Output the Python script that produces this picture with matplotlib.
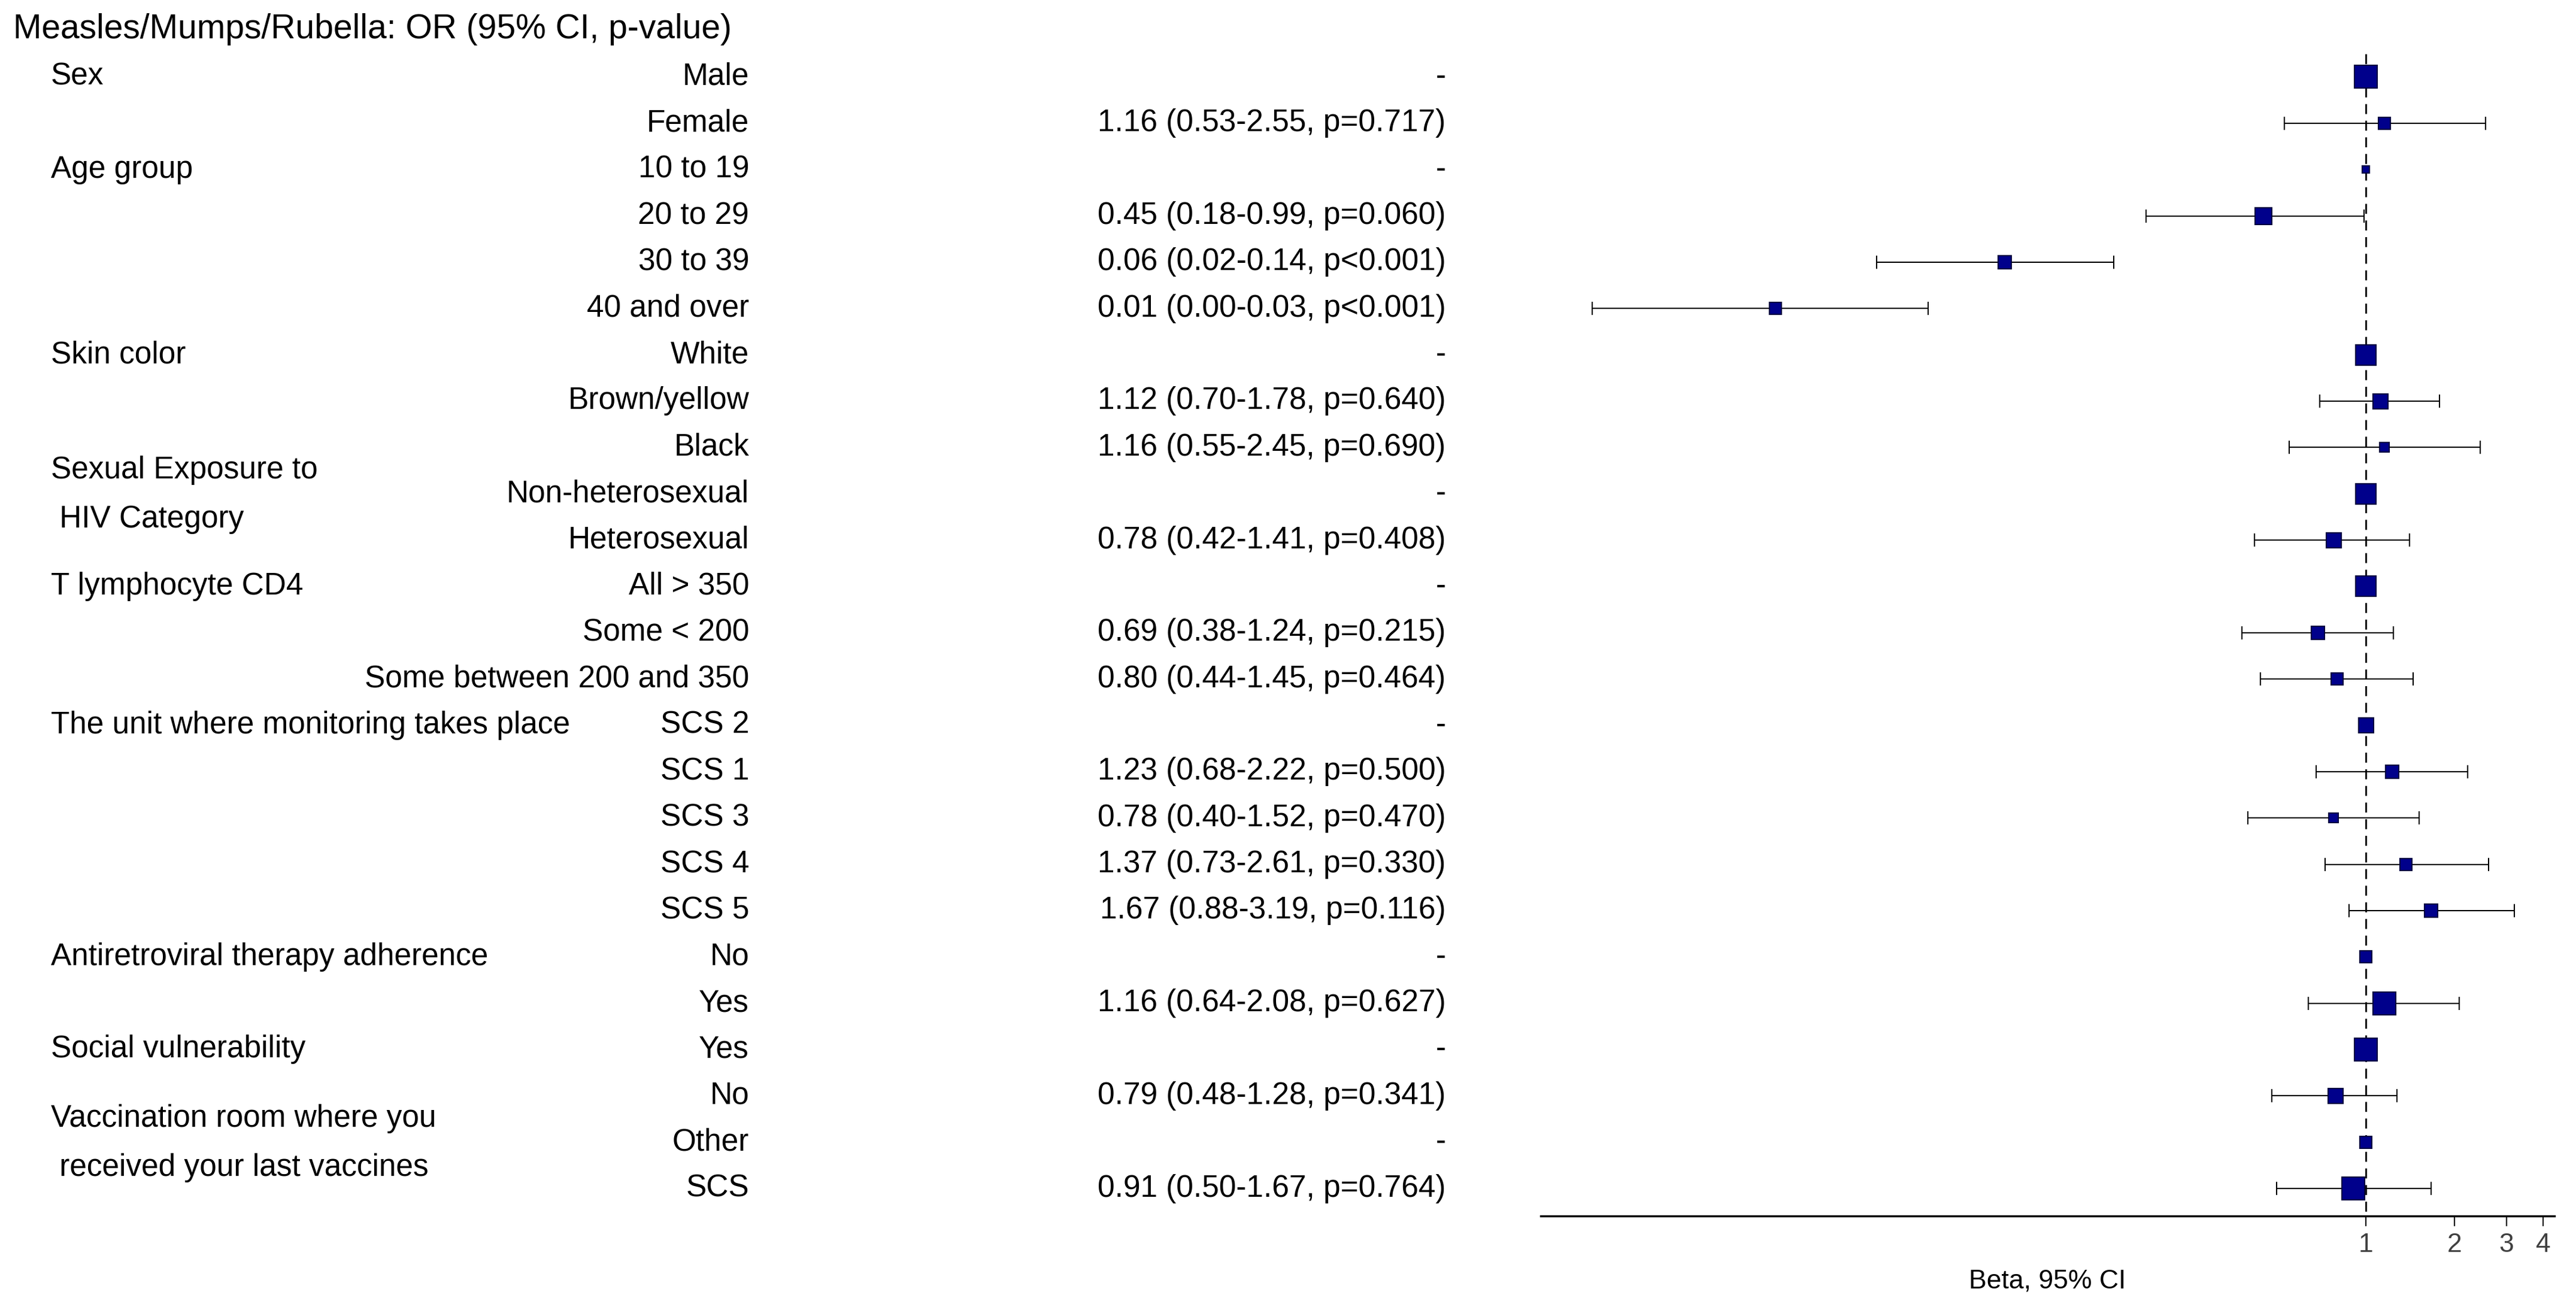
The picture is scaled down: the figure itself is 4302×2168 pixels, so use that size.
import matplotlib.pyplot as plt
import matplotlib.transforms as mtrans
from matplotlib.ticker import FixedLocator, NullLocator
import numpy as np

plt.rcParams['font.family'] = ['Liberation Sans', 'DejaVu Sans']

# groups: (label lines, first row index)
groups = [(["Sex"], 0), (["Age group"], 2), (["Skin color"], 6),
          (["Sexual Exposure to", " HIV Category"], 9), (["T lymphocyte CD4"], 11),
          (["The unit where monitoring takes place"], 14),
          (["Antiretroviral therapy adherence"], 19), (["Social vulnerability"], 21),
          (["Vaccination room where you", " received your last vaccines"], 23)]
levels = ["Male", "Female", "10 to 19", "20 to 29", "30 to 39", "40 and over",
          "White", "Brown/yellow", "Black", "Non-heterosexual", "Heterosexual",
          "All > 350", "Some < 200", "Some between 200 and 350",
          "SCS 2", "SCS 1", "SCS 3", "SCS 4", "SCS 5", "No", "Yes", "Yes", "No",
          "Other", "SCS"]
odds = [1, 1.16, 1, 0.45, 0.06, 0.01, 1, 1.12, 1.16, 1, 0.78, 1, 0.69, 0.80,
        1, 1.23, 0.78, 1.37, 1.67, 1, 1.16, 1, 0.79, 1, 0.91]
lower = [None, 0.53, None, 0.18, 0.022, 0.0024, None, 0.70, 0.55, None, 0.42, None, 0.38, 0.44,
         None, 0.68, 0.40, 0.73, 0.88, None, 0.64, None, 0.48, None, 0.50]
upper = [None, 2.55, None, 0.99, 0.14, 0.033, None, 1.78, 2.45, None, 1.41, None, 1.24, 1.45,
         None, 2.22, 1.52, 2.61, 3.19, None, 2.08, None, 1.28, None, 1.67]
or_text = ["-", "1.16 (0.53-2.55, p=0.717)", "-", "0.45 (0.18-0.99, p=0.060)",
           "0.06 (0.02-0.14, p<0.001)", "0.01 (0.00-0.03, p<0.001)", "-",
           "1.12 (0.70-1.78, p=0.640)", "1.16 (0.55-2.45, p=0.690)", "-",
           "0.78 (0.42-1.41, p=0.408)", "-", "0.69 (0.38-1.24, p=0.215)",
           "0.80 (0.44-1.45, p=0.464)", "-", "1.23 (0.68-2.22, p=0.500)",
           "0.78 (0.40-1.52, p=0.470)", "1.37 (0.73-2.61, p=0.330)",
           "1.67 (0.88-3.19, p=0.116)", "-", "1.16 (0.64-2.08, p=0.627)", "-",
           "0.79 (0.48-1.28, p=0.341)", "-", "0.91 (0.50-1.67, p=0.764)"]
box_size = [14, 7, 4, 10, 8, 7, 12, 9, 6, 12, 9, 12, 8, 7, 9, 8, 6, 7, 8, 7, 14, 14, 9, 7, 14]

fig = plt.figure(figsize=(43.02, 21.68), dpi=100)
ax = fig.add_axes([0.598, 0.063, 0.3937, 0.912])
rows = np.arange(len(levels))
ax.set_ylim(24.6, -0.96)
ax.set_xscale('log')
ax.set_xlim(0.0016, 4.37)

ax.plot([1, 1], [-0.5, 24.6], color='black', ls=(0, (6, 4)), lw=2)
for i in rows:
    if lower[i] is not None:
        ax.errorbar(odds[i], i, xerr=[[odds[i] - lower[i]], [upper[i] - odds[i]]],
                    fmt='none', ecolor='black', elinewidth=1.5, capsize=8, capthick=1.5)
    ax.plot(odds[i], i, marker='s', ms=box_size[i] * 2, mfc='#00008B', mec='#000040', mew=1.5)

for s in ['top', 'left', 'right']:
    ax.spines[s].set_visible(False)
ax.spines['bottom'].set_linewidth(2.5)
ax.yaxis.set_major_locator(NullLocator())
ax.xaxis.set_major_locator(FixedLocator([1, 2, 3, 4]))
ax.xaxis.set_minor_locator(NullLocator())
ax.set_xticklabels(["1", "2", "3", "4"], color='#404040')
ax.tick_params(axis='x', labelsize=32, length=12, width=1.5, pad=8)
ax.set_xlabel("Beta, 95% CI", fontsize=32, labelpad=14)

blend = mtrans.blended_transform_factory(fig.transFigure, ax.transData)
fs = 37
for lines, start in groups:
    if len(lines) == 1:
        fig.text(31 / 1568, start, lines[0], transform=blend, fontsize=fs, va='center', ha='left')
    else:
        fig.text(31 / 1568, start - 0.5, lines[0], transform=blend, fontsize=fs, va='center', ha='left')
        fig.text(31 / 1568, start + 0.55, lines[1], transform=blend, fontsize=fs, va='center', ha='left')
for i in rows:
    fig.text(456 / 1568, i, levels[i], transform=blend, fontsize=fs, va='center', ha='right')
    fig.text(880 / 1568, i, or_text[i], transform=blend, fontsize=fs, va='center', ha='right')

fig.text(8 / 1568, 1 - 18 / 790, "Measles/Mumps/Rubella: OR (95% CI, p-value)", fontsize=41,
         va='center', ha='left')

fig.savefig('out.png', dpi=100, facecolor='white')
